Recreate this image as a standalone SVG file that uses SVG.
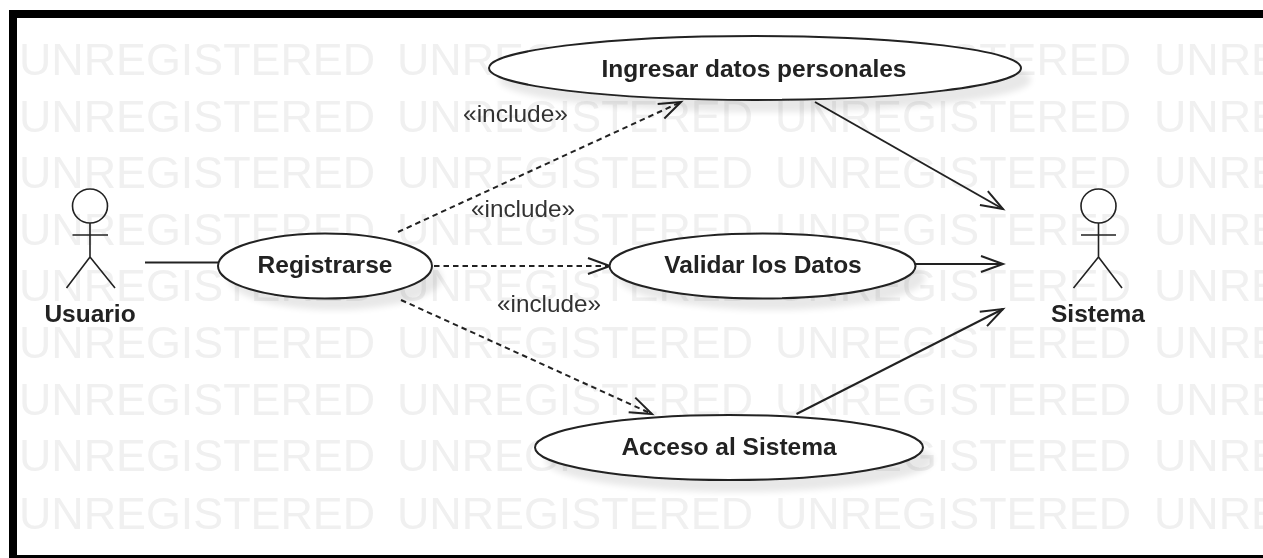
<svg xmlns="http://www.w3.org/2000/svg" width="1263" height="558" viewBox="0 0 1263 558">
<style>
.wm{font:44px "Liberation Sans",Arial,sans-serif;fill:#f0f0f0}
.n{fill:#fff;stroke:#222;stroke-width:2}
.s{fill:#000;opacity:.09;filter:url(#b)}
.t{font:bold 24.500px "Liberation Sans",Arial,sans-serif;fill:#222;text-anchor:middle}
.i{font:24px "Liberation Sans",Arial,sans-serif;fill:#333}
.a{fill:none;stroke:#222;stroke-width:1.6}
.c{fill:none;stroke:#222;stroke-width:2}
.d{stroke-dasharray:5.500 4}
</style>
<defs>
<filter id="b" x="-10%" y="-30%" width="120%" height="160%"><feGaussianBlur stdDeviation="3"/></filter>
<filter id="soft" x="0" y="0" width="100%" height="100%"><feGaussianBlur stdDeviation="0.450"/></filter>
<clipPath id="cp"><rect x="17" y="18" width="1246" height="537"/></clipPath>
<marker id="o" markerUnits="userSpaceOnUse" markerWidth="30" markerHeight="24" refX="25" refY="12" orient="auto"><path d="M3 4L25 12L3 20" fill="none" stroke="#222" stroke-width="2"/></marker>
<g id="wr"><text class="wm" x="19" textLength="356" lengthAdjust="spacingAndGlyphs">UNREGISTERED</text><text class="wm" x="397" textLength="356" lengthAdjust="spacingAndGlyphs">UNREGISTERED</text><text class="wm" x="775" textLength="356" lengthAdjust="spacingAndGlyphs">UNREGISTERED</text><text class="wm" x="1154" textLength="356" lengthAdjust="spacingAndGlyphs">UNREGISTERED</text></g>
</defs>
<rect width="1263" height="558" fill="#fff"/>
<rect x="9" y="10" width="1254" height="548" fill="#000"/>
<rect x="17" y="18" width="1246" height="537" fill="#fff"/>
<g filter="url(#soft)">
<g id="watermark" clip-path="url(#cp)">
<use href="#wr" y="75"/><use href="#wr" y="131.5"/><use href="#wr" y="188"/><use href="#wr" y="244.5"/><use href="#wr" y="301"/><use href="#wr" y="358"/><use href="#wr" y="414.5"/><use href="#wr" y="471"/><use href="#wr" y="529"/>
</g>
<g id="connectors">
<path class="c" d="M145 262.500H218"/>
<path class="c d" marker-end="url(#o)" d="M398 232L681 102"/>
<path class="c d" marker-end="url(#o)" d="M434 266H610"/>
<path class="c d" marker-end="url(#o)" d="M401 300L652 414"/>
<path class="c" marker-end="url(#o)" d="M815 102L1003 209"/>
<path class="c" marker-end="url(#o)" d="M915 264H1003"/>
<path class="c" marker-end="url(#o)" d="M796.500 414L1003 309"/>
</g>
<g id="labels"><text class="i" x="463" y="122" textLength="105" lengthAdjust="spacingAndGlyphs">«include»</text><text class="i" x="471" y="217" textLength="104" lengthAdjust="spacingAndGlyphs">«include»</text><text class="i" x="497" y="312" textLength="104" lengthAdjust="spacingAndGlyphs">«include»</text></g>
<g id="usuario"><ellipse class="a" cx="90" cy="206" rx="17.500" ry="17"/><path class="a" d="M90 223V257M72.500 235H108M90 257L66.500 288M90 257L115 288"/><text class="t" x="90" y="322">Usuario</text></g>
<g id="sistema"><ellipse class="a" cx="1098.500" cy="206" rx="17.500" ry="17"/><path class="a" d="M1098.500 223V257M1081 235H1116M1098.500 257L1073.500 288M1098.500 257L1122 288"/><text class="t" x="1098" y="322">Sistema</text></g>
<g id="ingresar"><ellipse class="s" cx="765" cy="80" rx="266" ry="32"/><ellipse class="n" cx="755" cy="68" rx="266" ry="32"/><text class="t" x="754" y="77">Ingresar datos personales</text></g>
<g id="registrarse"><ellipse class="s" cx="335" cy="278" rx="107" ry="32"/><ellipse class="n" cx="325" cy="266" rx="107" ry="32.500"/><text class="t" x="325" y="273">Registrarse</text></g>
<g id="validar"><ellipse class="s" cx="772" cy="278" rx="153" ry="32"/><ellipse class="n" cx="762.500" cy="266" rx="153" ry="32.500"/><text class="t" x="763" y="273">Validar los Datos</text></g>
<g id="acceso"><ellipse class="s" cx="739" cy="460" rx="194" ry="32"/><ellipse class="n" cx="729" cy="447.500" rx="194" ry="32.500"/><text class="t" x="729" y="455">Acceso al Sistema</text></g>
</g>
</svg>
